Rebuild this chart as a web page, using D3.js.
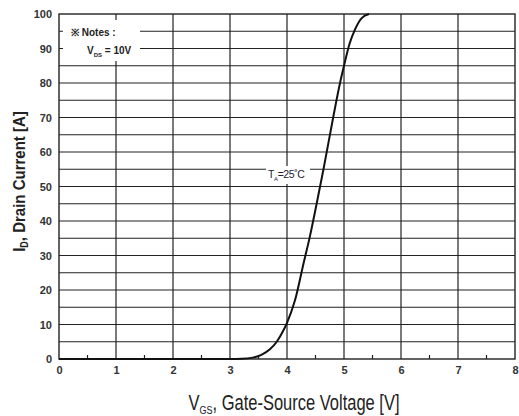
<!DOCTYPE html>
<html>
<head>
<meta charset="utf-8">
<script src="https://cdn.jsdelivr.net/npm/d3@7"></script>
<style>
  body { margin: 0; background: #fff; }
  text { font-family: "Liberation Sans", Arial, sans-serif; }
</style>
</head>
<body>
<div class="chart"></div>
<script>
//Chart data read from the transfer characteristic.
var vgs = [0, 1, 2, 3.0, 3.2, 3.4, 3.55, 3.7, 3.82, 3.94, 4.0, 4.14, 4.29, 4.4, 4.52, 4.64, 4.81, 4.93, 5.0, 5.1, 5.19, 5.31, 5.44];
var idrain = [0, 0, 0, 0, 0.05, 0.4, 1.2, 2.8, 5, 8.4, 10.5, 17, 27.7, 35.4, 45, 55, 70, 80, 85, 91.5, 95.4, 98.8, 100];
var xTicks = [0, 1, 2, 3, 4, 5, 6, 7, 8];
var yTicks = [0, 10, 20, 30, 40, 50, 60, 70, 80, 90, 100];

//SVG area.
var svgWidth = 519;
var svgHeight = 416;
var margin = { top: 14, right: 4, bottom: 57, left: 59 };
var width = svgWidth - margin.left - margin.right;
var height = svgHeight - margin.top - margin.bottom;

var svg = d3.select(".chart")
  .append("svg")
  .attr("width", svgWidth)
  .attr("height", svgHeight)
  .append("g")
  .attr("transform", "translate(" + margin.left + "," + margin.top + ")");

var xScale = d3.scaleLinear().domain([0, 8]).range([0, width]);
var yScale = d3.scaleLinear().domain([0, 100]).range([height, 0]);

//Grid lines: every 1 V and every 5 A.
var grid = svg.append("g").attr("stroke", "#222").attr("stroke-width", 1.2);
grid.selectAll(".vg").data(d3.range(1, 8)).enter().append("line")
  .attr("x1", d => xScale(d)).attr("x2", d => xScale(d))
  .attr("y1", 0).attr("y2", height);
grid.selectAll(".hg").data(d3.range(5, 100, 5)).enter().append("line")
  .attr("x1", 0).attr("x2", width)
  .attr("y1", d => yScale(d)).attr("y2", d => yScale(d));

//Minor ticks on the bottom axis.
grid.selectAll(".mt").data(d3.range(0.5, 8, 1)).enter().append("line")
  .attr("x1", d => xScale(d)).attr("x2", d => xScale(d))
  .attr("y1", height).attr("y2", height - 4);

svg.append("rect")
  .attr("width", width).attr("height", height)
  .attr("fill", "none").attr("stroke", "#222").attr("stroke-width", 1.4);

//Axes (labels only, grid draws the lines).
var bottomAxis = d3.axisBottom(xScale).tickValues(xTicks).tickSize(0).tickPadding(7);
var leftAxis = d3.axisLeft(yScale).tickValues(yTicks).tickSize(0).tickPadding(7);

var xg = svg.append("g").attr("transform", "translate(0," + height + ")").call(bottomAxis);
var yg = svg.append("g").call(leftAxis);
[xg, yg].forEach(function(g) {
  g.select(".domain").remove();
  g.selectAll("text")
    .attr("fill", "#333")
    .style("font-size", "11px")
    .style("font-weight", "bold")
    .style("font-family", "'Liberation Sans', Arial, sans-serif");
});

//Curve.
var line = d3.line()
  .x(function(d, i) { return xScale(vgs[i]); })
  .y(function(d) { return yScale(d); })
  .curve(d3.curveMonotoneX);

svg.append("path")
  .datum(idrain)
  .attr("d", line)
  .attr("fill", "none")
  .attr("stroke", "#111")
  .attr("stroke-width", 2);

//Notes box.
svg.append("rect")
  .attr("x", 4).attr("y", 6).attr("width", 77).attr("height", 41)
  .attr("fill", "#fff");
svg.append("text")
  .attr("x", 12).attr("y", 22)
  .style("font-size", "10px").style("font-weight", "bold").attr("fill", "#222")
  .text("\u203B Notes :");
var vds = svg.append("text")
  .attr("x", 28).attr("y", 40)
  .style("font-size", "10px").style("font-weight", "bold").attr("fill", "#222");
vds.append("tspan").text("V");
vds.append("tspan").attr("dy", 3).style("font-size", "6px").text("DS");
vds.append("tspan").attr("dy", -3).text(" = 10V");

//Temperature label.
svg.append("rect")
  .attr("x", 207).attr("y", 152).attr("width", 44).attr("height", 18)
  .attr("fill", "#fff");
var ta = svg.append("text")
  .attr("x", 209).attr("y", 164)
  .style("font-size", "10.5px").attr("fill", "#223")
  .attr("letter-spacing", "-0.4");
ta.append("tspan").text("T");
ta.append("tspan").attr("dy", 3).style("font-size", "6px").text("A");
ta.append("tspan").attr("dy", -3).text("=25\u02DAC");

//Axis titles (the source text is drawn tall and narrow).
var xt = svg.append("text")
  .attr("transform", "translate(" + (294 - margin.left) + "," + (410 - margin.top) + ") scale(1,1.3)")
  .attr("text-anchor", "middle")
  .style("font-size", "16.5px").attr("fill", "#222");
xt.append("tspan").text("V");
xt.append("tspan").attr("dy", 3).style("font-size", "9px").text("GS");
xt.append("tspan").attr("dy", -3).text(", Gate-Source Voltage [V]");

var yt = svg.append("text")
  .attr("transform", "translate(" + (25 - margin.left) + "," + (181.5 - margin.top) + ") rotate(-90) scale(1,1.15)")
  .attr("text-anchor", "middle")
  .style("font-size", "15px").style("font-weight", "bold").attr("fill", "#222");
yt.append("tspan").text("I");
yt.append("tspan").attr("dy", 3).style("font-size", "9px").text("D");
yt.append("tspan").attr("dy", -3).text(", Drain Current [A]");
</script>
</body>
</html>
